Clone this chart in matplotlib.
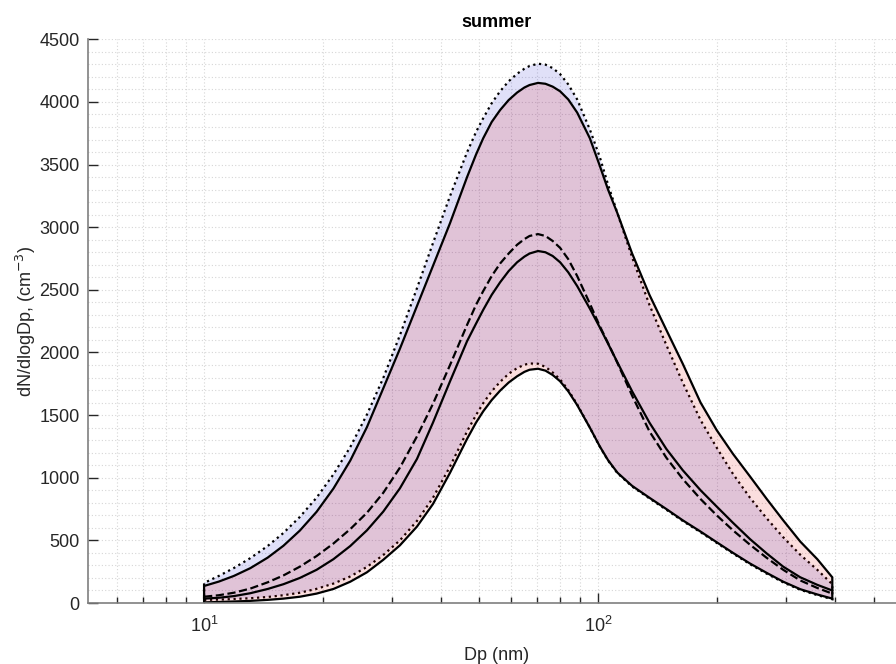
import numpy as np
import matplotlib
matplotlib.use("Agg")
import matplotlib.pyplot as plt
from matplotlib.ticker import LogLocator, MultipleLocator

plt.rcParams['font.family'] = ['Liberation Sans', 'DejaVu Sans']

# particle diameter (nm)
dp = [10.0, 10.9, 11.9, 13.1, 14.5, 15.9, 17.5, 19.3, 21.3, 23.5, 25.9, 28.5, 31.4, 34.7,
      38.1, 42.1, 46.5, 49.0, 51.1, 53.7, 56.4, 59.3, 62.3, 65.0, 67.0, 70.4, 73.5, 76.7,
      80.1, 84.0, 88.5, 95.3, 101, 106, 112, 122, 135, 149, 164, 182, 200, 220, 243, 268,
      295, 326, 360, 393]

# dotted band (upper / lower) and its dashed mean
upper_dot = [160, 216, 279, 358, 455, 559, 687, 841, 1027, 1245, 1504, 1797, 2137, 2513,
             2873, 3249, 3598, 3760, 3870, 3990, 4085, 4165, 4225, 4265, 4287, 4305, 4298, 4270,
             4222, 4140, 4020, 3780, 3560, 3340, 3110, 2760, 2380, 2060, 1760, 1460, 1240, 1030,
             840, 675, 525, 385, 265, 150]
lower_dot = [25, 27, 32, 38, 48, 62, 82, 113, 155, 212, 288, 383, 500, 655,
             840, 1090, 1370, 1500, 1595, 1690, 1765, 1830, 1875, 1902, 1912, 1910, 1885, 1840,
             1785, 1700, 1585, 1400, 1248, 1137, 1036, 930, 835, 745, 655, 565, 480, 395,
             310, 234, 165, 105, 63, 30]
mean_dash = [50, 62, 82, 115, 165, 220, 290, 375, 475, 590, 720, 880, 1080, 1330,
             1590, 1900, 2220, 2380, 2490, 2610, 2710, 2790, 2860, 2905, 2930, 2945, 2930, 2890,
             2835, 2745, 2610, 2390, 2210, 2075, 1915, 1655, 1370, 1160, 990, 830, 700, 580,
             465, 360, 265, 180, 120, 75]

# solid band (upper / lower) and its solid mean
upper_sol = [136, 171, 216, 278, 362, 457, 578, 728, 914, 1137, 1404, 1714, 2029, 2371,
             2691, 3033, 3400, 3580, 3710, 3840, 3935, 4015, 4075, 4115, 4135, 4152, 4145, 4122,
             4085, 4020, 3915, 3710, 3490, 3300, 3110, 2790, 2460, 2180, 1910, 1600, 1380, 1190,
             1010, 830, 660, 490, 350, 205]
lower_sol = [5, 8, 12, 17, 25, 35, 50, 75, 112, 170, 245, 345, 460, 610,
             790, 1040, 1310, 1440, 1530, 1620, 1695, 1760, 1810, 1845, 1862, 1870, 1855, 1820,
             1770, 1690, 1580, 1400, 1250, 1140, 1040, 935, 840, 750, 660, 570, 485, 400,
             315, 240, 170, 110, 68, 35]
mean_sol = [35, 42, 55, 78, 112, 150, 200, 265, 350, 455, 580, 730, 915, 1150,
            1440, 1770, 2090, 2230, 2340, 2460, 2560, 2650, 2720, 2765, 2790, 2810, 2800, 2770,
            2720, 2640, 2530, 2350, 2200, 2070, 1920, 1690, 1440, 1230, 1060, 900, 770, 640,
            510, 395, 290, 205, 145, 100]


def band(ax, x, lo, hi, face, style):
    xs = np.concatenate([x, x[::-1]])
    ys = np.concatenate([lo, hi[::-1]])
    ax.fill(xs, ys, facecolor=face, edgecolor='k', linestyle=style, linewidth=1.6)


def main():
    fig = plt.figure(figsize=(8.96, 6.64), dpi=100)
    ax = fig.add_axes([87.5 / 896, 61 / 664, (904.7 - 87.5) / 896, (603 - 39.3) / 664])
    x = np.array(dp, dtype=float)

    band(ax, x, np.array(lower_dot), np.array(upper_dot), (0.0, 0.0, 0.8, 0.12), ':')
    band(ax, x, np.array(lower_sol), np.array(upper_sol), (0.9, 0.0, 0.0, 0.13), '-')
    ax.plot(x, mean_dash, 'k--', linewidth=1.6)
    ax.plot(x, mean_sol, 'k-', linewidth=1.6)

    ax.set_xscale('log')
    ax.set_xlim(5.06, 600)
    ax.set_ylim(0, 4500)
    ax.yaxis.set_major_locator(MultipleLocator(500))
    ax.yaxis.set_minor_locator(MultipleLocator(100))
    ax.xaxis.set_minor_locator(LogLocator(base=10, subs=np.arange(2, 10)))

    ax.grid(True, which='both', linestyle=(0, (1, 2)), color='#d6d6d6', linewidth=0.8)
    ax.set_axisbelow(True)
    for s in ['top', 'right']:
        ax.spines[s].set_visible(False)
    for s in ['left', 'bottom']:
        ax.spines[s].set_color('#7f7f7f')
        ax.spines[s].set_linewidth(1.2)
    ax.tick_params(which='major', direction='in', length=7, colors='#262626',
                   labelsize=13, width=1)
    ax.tick_params(axis='y', which='major', pad=5.5)
    ax.tick_params(axis='x', which='major', pad=9)
    ax.tick_params(axis='x', which='minor', direction='in', length=4, width=1, colors='#262626')
    ax.tick_params(axis='y', which='minor', length=0)

    ax.set_title('summer', fontsize=13, fontweight='bold', pad=9)
    ax.set_xlabel('Dp (nm)', fontsize=13, color='#262626', labelpad=8)
    ax.set_ylabel('dN/dlogDp, (cm$^{-3}$)', fontsize=13, color='#262626', labelpad=1)

    fig.savefig('out.png', dpi=100)


if __name__ == "__main__":
    main()
